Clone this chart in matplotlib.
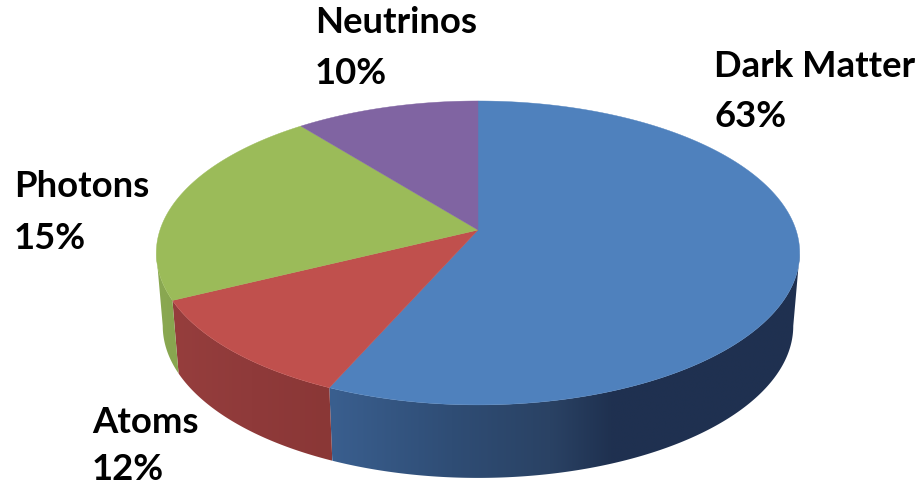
#!/usr/bin/env python3
"""
Energy budget drawn as a tilted 3D pie (perspective disc with a rim)
"""
import numpy as np
import matplotlib
matplotlib.use('Agg')
import matplotlib.pyplot as plt
from matplotlib.colors import LinearSegmentedColormap
from matplotlib.patches import Polygon

# the printed labels do not agree with the drawn slice sizes, so keep both
names = ['Dark Matter', 'Atoms', 'Photons', 'Neutrinos']
percent_labels = ['63%', '12%', '15%', '10%']
slice_sizes = [56.6, 11.1, 21.6, 10.7]
top_colors = ['#4f81bd', '#c0504d', '#9bbb59', '#8064a2']

# rim shading per slice, (fraction across the slice, colour) left to right
rim_colors = [
    [(0, '#3a5f8f'), (0.26, '#2f4d75'), (0.47, '#2a4264'), (0.6, '#1f3150'), (1, '#1f3050')],
    [(0, '#963e3d'), (0.5, '#8f3a3a'), (1, '#8a3736')],
    [(0, '#8aa852'), (1, '#88a64f')],
    None,
]

label_x = [714, 92, 14, 315]
label_y = [77, 433, 197, 33]
percent_y = [127, 480, 249, 84]

# pie geometry in pixels
CX, CY = 478, 230
FX, GY, K = 318, 148.5, 0.151
DEPTH, SHRINK = 73, 0.98

# the rim only shows between the widest points of the disc
THETA_RIGHT = np.arccos(-K)
THETA_LEFT = 2 * np.pi - THETA_RIGHT


def project(theta):
    # theta clockwise from the top of the disc
    u, v = np.sin(theta), np.cos(theta)
    w = 1 + K * v
    return CX + FX * u / w, CY - GY * v / w


def main():
    fig = plt.figure(figsize=(9.19, 4.86), dpi=100)
    ax = fig.add_axes([0, 0, 1, 1])
    ax.axis('off')

    edges = np.cumsum([0] + slice_sizes) / sum(slice_sizes) * 2 * np.pi

    # rim first, the top faces cover its upper edge
    for i in range(len(slice_sizes)):
        if rim_colors[i] is None:
            continue
        th = np.linspace(max(edges[i], THETA_RIGHT), min(edges[i + 1], THETA_LEFT), 200)
        x, y = project(th)
        xb = CX + (x - CX) * SHRINK
        yb = y + DEPTH
        outline = np.c_[np.r_[x, xb[::-1]], np.r_[y, yb[::-1]]]
        x0, x1 = outline[:, 0].min(), outline[:, 0].max()
        y0, y1 = outline[:, 1].min(), outline[:, 1].max()
        cmap = LinearSegmentedColormap.from_list('rim%d' % i, rim_colors[i])
        grad = ax.imshow(np.linspace(0, 1, 256).reshape(1, -1), cmap=cmap, aspect='auto',
                         extent=(x0, x1, y1, y0), zorder=1, interpolation='bilinear')
        clip = Polygon(outline, closed=True, transform=ax.transData)
        grad.set_clip_path(clip)

    # top faces
    for i in range(len(slice_sizes)):
        th = np.linspace(edges[i], edges[i + 1], 200)
        x, y = project(th)
        ax.fill(np.r_[CX, x], np.r_[CY, y], color=top_colors[i], lw=0.3, zorder=2)

    ax.set_xlim(0, 919)
    ax.set_ylim(486, 0)

    font = dict(family='Lato', fontweight='bold', fontsize=26.3, color='black',
                ha='left', va='baseline')
    for i in range(len(names)):
        ax.text(label_x[i], label_y[i], names[i], **font)
        ax.text(label_x[i], percent_y[i], percent_labels[i], **font)

    fig.savefig('out.png', dpi=100)


if __name__ == '__main__':
    main()
